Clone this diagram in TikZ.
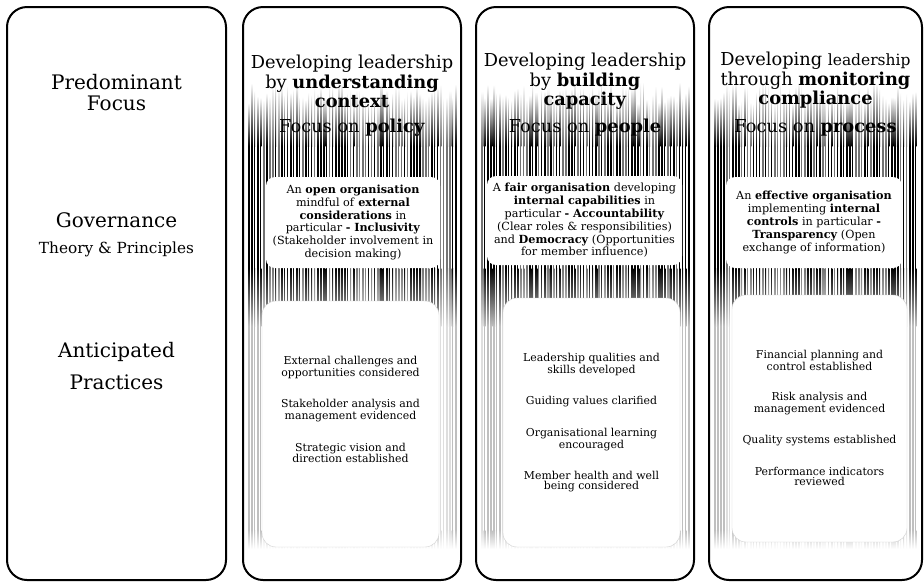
\documentclass[tikz,border=0pt]{standalone}
\usepackage{fontspec}
\setmainfont{DejaVu Serif}
\usetikzlibrary{positioning}

\begin{document}
\begin{tikzpicture}[x=1pt,y=-1pt,
  colbox/.style={draw,line width=2pt,rounded corners=20pt,minimum height=573pt},
  heading/.style={align=center,font=\fontsize{17.8}{19.5}\selectfont},
  focus/.style={font=\fontsize{17.8}{19.5}\selectfont},
  govbox/.style={fill=white,rounded corners=9pt,align=center,inner sep=0pt,
    font=\fontsize{11.2}{12.8}\selectfont},
  pracbox/.style={fill=white,draw=black!18,rounded corners=14pt},
  practext/.style={align=center,font=\fontsize{10.9}{10}\selectfont},
  side/.style={align=center,font=\fontsize{20}{21}\selectfont}]

\fill[white] (0,0) rectangle (924,582);
\useasboundingbox (0,0) rectangle (924,582);

% barcode stripes: fade in, dark band, fade to light grey, fade out
\pgfmathsetseed{11}
\foreach \L/\R in {243/461,476/694,709/922}{
  \pgfmathtruncatemacro\n{(\R-\L-10)/3}
  \foreach \k in {0,...,\n}{
    \pgfmathsetmacro\xa{\L+5+3*\k}
    \pgfmathsetmacro\xb{\xa+0.7+1.7*rnd}
    \pgfmathsetmacro\ya{82+22*rnd}
    \pgfmathtruncatemacro\g{rnd<0.6 ? 100 : 55}
    \pgfmathtruncatemacro\h{\g/4}
    \shade[top color=white,bottom color=black!\g] (\xa,\ya) rectangle (\xb,146);
    \fill[black!\g] (\xa,145.5) rectangle (\xb,268.5);
    \shade[top color=black!\g,bottom color=black!\h] (\xa,268) rectangle (\xb,326);
    \fill[black!\h] (\xa,325.5) rectangle (\xb,530.5);
    \shade[top color=black!\h,bottom color=white] (\xa,530) rectangle (\xb,549);
  }
}

% governance boxes
\node[govbox,minimum width=174pt,minimum height=91pt] (g1) at (353,222.5)
  {An \textbf{open organisation}\\mindful of \textbf{external}\\
   \textbf{considerations} in\\particular \textbf{- Inclusivity}\\
   (Stakeholder involvement in\\decision making)};
\node[govbox,minimum width=195pt,minimum height=89pt] (g2) at (584.5,220.5)
  {A \textbf{fair organisation} developing\\\textbf{internal capabilities} in\\
   particular \textbf{- Accountability}\\(Clear roles \& responsibilities)\\
   and \textbf{Democracy} (Opportunities\\for member influence)};
\node[govbox,minimum width=176pt,minimum height=91pt] (g3) at (814,222.5)
  {An \textbf{effective organisation}\\implementing \textbf{internal}\\
   \textbf{controls} in particular \textbf{-}\\\textbf{Transparency} (Open\\
   exchange of information)};

% practice boxes
\node[pracbox,minimum width=177pt,minimum height=246pt] (p1) at (350.5,424) {};
\node[pracbox,minimum width=177pt,minimum height=249pt] (p2) at (591.5,422.5) {};
\node[pracbox,minimum width=175pt,minimum height=247pt] (p3) at (819.5,418.5) {};

\node[practext,below=52pt of p1.north] (pt1)
  {External challenges and\\opportunities considered\\[20pt]
   Stakeholder analysis and\\management evidenced\\[20pt]
   Strategic vision and\\direction established};
\node[practext,below=52pt of p2.north] (pt2)
  {Leadership qualities and\\skills developed\\[20pt]
   Guiding values clarified\\[20pt]
   Organisational learning\\encouraged\\[20pt]
   Member health and well\\being considered};
\node[practext,below=52pt of p3.north] (pt3)
  {Financial planning and\\control established\\[20pt]
   Risk analysis and\\management evidenced\\[20pt]
   Quality systems established\\[20pt]
   Performance indicators\\reviewed};

% headings
\node[heading] (t1) at (352,81.5)
  {Developing leadership\\by \textbf{understanding}\\\textbf{context}};
\node[heading] (t2) at (585,81.5)
  {Developing leadership\\by \textbf{building}\\\textbf{capacity}};
\node[heading] (t3) at (815.5,80.5)
  {Developing {\fontsize{15.5}{19.5}\selectfont leadership}\\through \textbf{monitoring}\\\textbf{compliance}};
\node[focus] (f1) at (352,128) {Focus on \textbf{policy}};
\node[focus] (f2) at (585,128) {Focus on \textbf{people}};
\node[focus] (f3) at (815.5,128) {Focus on \textbf{process}};

% left column labels
\node[side] (s1) at (116.5,92.5) {Predominant\\Focus};
\node[side] (s2) at (116.5,220) {Governance};
\node[font=\fontsize{15.3}{16}\selectfont] (s2b) at (116.5,249) {Theory \& Principles};
\node[side,font=\fontsize{20}{32}\selectfont] (s3) at (116.5,366) {Anticipated\\Practices};

% columns
\node[colbox,minimum width=219pt] (c0) at (116.5,293.5) {};
\node[colbox,minimum width=218pt] (c1) at (352,293.5) {};
\node[colbox,minimum width=218pt] (c2) at (585,293.5) {};
\node[colbox,minimum width=213pt] (c3) at (815.5,293.5) {};

\end{tikzpicture}
\end{document}
